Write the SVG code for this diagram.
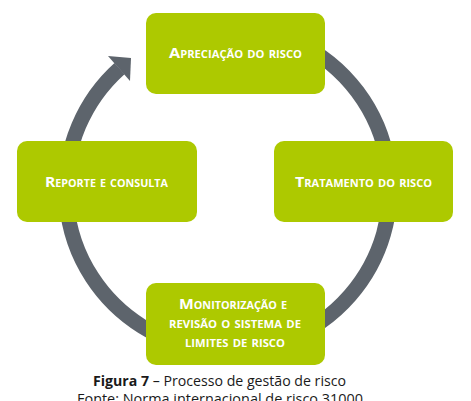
<svg xmlns="http://www.w3.org/2000/svg" width="471" height="401" viewBox="0 0 471 401">
<style>
.box{fill:#adc900}
.lbl{font-family:"Open Sans","Liberation Sans",sans-serif;font-weight:bold;font-size:14.5px;font-variant:small-caps;fill:#ffffff}
.cap{font-family:"Open Sans","Liberation Sans",sans-serif;font-size:14.5px;fill:#1a1a1a}
.ring{fill:none;stroke:#5d646c;stroke-width:15}
</style>
<rect width="471" height="401" fill="#ffffff"/>
<g id="connectors">
<path class="ring" d="M 228 27 A 162 162 0 1 1 119.5 68.6"/>
<polygon points="108,56 131,58 130,81" fill="#5d646c"/>
</g>
<g id="node-apreciacao">
<rect class="box" x="146" y="13" width="179" height="81" rx="10"/>
<text class="lbl" x="169" y="58" textLength="133" lengthAdjust="spacingAndGlyphs">Apreciação do risco</text>
</g>
<g id="node-tratamento">
<rect class="box" x="274" y="141" width="179" height="81" rx="10"/>
<text class="lbl" x="295" y="187" textLength="137" lengthAdjust="spacingAndGlyphs">Tratamento do risco</text>
</g>
<g id="node-monitorizacao">
<rect class="box" x="146" y="283" width="179" height="82" rx="10"/>
<text class="lbl" x="179" y="309" textLength="108" lengthAdjust="spacingAndGlyphs">Monitorização e</text>
<text class="lbl" x="169" y="328" textLength="132" lengthAdjust="spacingAndGlyphs">revisão o sistema de</text>
<text class="lbl" x="185" y="347" textLength="100" lengthAdjust="spacingAndGlyphs">limites de risco</text>
</g>
<g id="node-reporte">
<rect class="box" x="17" y="141" width="180" height="81" rx="10"/>
<text class="lbl" x="45" y="187" textLength="123" lengthAdjust="spacingAndGlyphs">Reporte e consulta</text>
</g>
<g id="caption">
<text class="cap" x="93" y="386" textLength="253" lengthAdjust="spacingAndGlyphs"><tspan font-weight="bold">Figura 7</tspan> – Processo de gestão de risco</text>
<text class="cap" x="77" y="404" textLength="286" lengthAdjust="spacingAndGlyphs">Fonte: Norma internacional de risco 31000</text>
</g>
</svg>
